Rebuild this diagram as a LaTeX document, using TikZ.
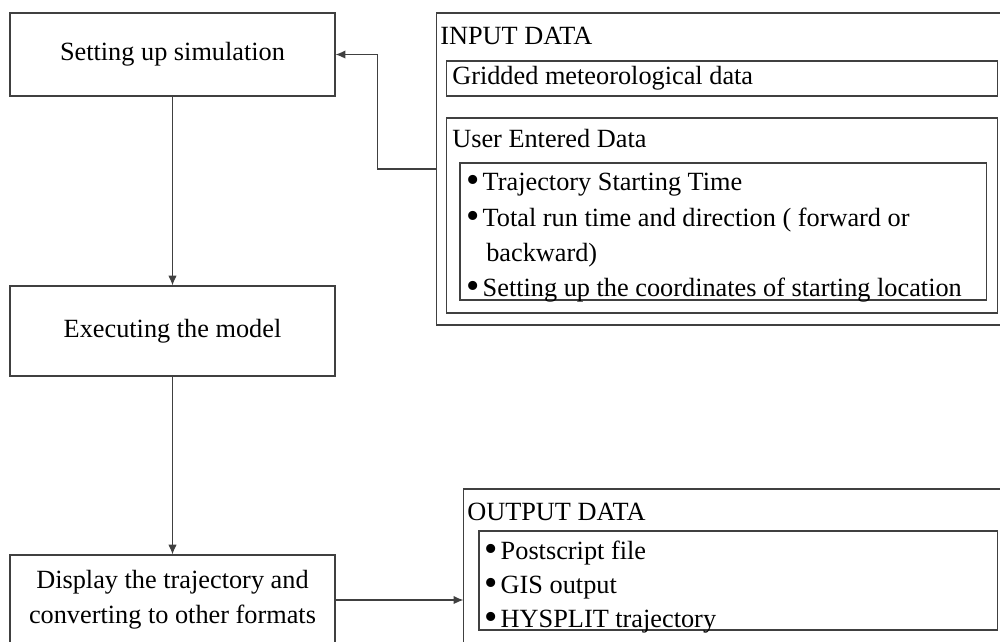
\documentclass[tikz,border=0pt]{standalone}
\usepackage{fontspec}
\setmainfont{Liberation Serif}
\usetikzlibrary{arrows.meta}
\newcommand{\itemdot}{\smash{\raisebox{-0.06em}{\fontsize{27}{0}\selectfont\textbullet}}\hspace{0.12em}}
\begin{document}
\begin{tikzpicture}[x=0.025cm, y=-0.025cm,
    font=\fontsize{18.7}{24.9}\selectfont,
    every node/.style={inner sep=0pt},
    frame/.style={draw=black!75, line width=0.8pt},
    stepbox/.style={frame, minimum width=8.125cm, align=center},
    flow/.style={draw=black!75, line width=0.8pt, -{Latex[length=7pt,width=6pt]}}]
  \useasboundingbox (0,0) rectangle (1000,641);
  \clip (0,0) rectangle (1000,641);
  % processing steps
  \node[stepbox, minimum height=2.075cm] (setup) at (172.5,54.5) {Setting up simulation};
  \node[stepbox, minimum height=2.25cm] (exec) at (172.5,331) {Executing the model};
  \node[stepbox, minimum height=2.25cm] (disp) at (172.5,600)
    {Display the trajectory and\\converting to other formats};
  % input data
  \node[frame, minimum width=14.3cm, minimum height=7.8cm] (inbox) at (723,169) {};
  \node[anchor=west] (intitle) at (440,36) {INPUT DATA};
  \node[frame, minimum width=13.75cm, minimum height=0.875cm] (gridbox) at (722,78.5) {};
  \node[anchor=west] (gridtext) at (452,78.5) {Gridded meteorological data};
  \node[frame, minimum width=13.75cm, minimum height=4.875cm] (userbox) at (722,215.5) {};
  \node[anchor=west] (usertitle) at (452,138) {User Entered Data};
  \node[frame, minimum width=13.15cm, minimum height=3.425cm] (userlist) at (723,231.5) {};
  \node[anchor=west] (tstart) at (466,185) {\itemdot Trajectory Starting Time};
  \node[anchor=west] (runtime) at (466,220) {\itemdot Total run time and direction ( forward or};
  \node[anchor=west] (backw) at (486,255) {backward)};
  \node[anchor=west] (coords) at (466,290) {\itemdot Setting up the coordinates of starting location};
  % output data
  \node[frame, minimum width=13.625cm, minimum height=5.55cm] (outbox) at (736.5,600) {};
  \node[anchor=west] (outtitle) at (467,512) {OUTPUT DATA};
  \node[frame, minimum width=12.95cm, minimum height=2.475cm] (outlist) at (738,580.5) {};
  \node[anchor=west] (psfile) at (484,553) {\itemdot Postscript file};
  \node[anchor=west] (gisout) at (484,588) {\itemdot GIS output};
  \node[anchor=west] (hytraj) at (484,622) {\itemdot HYSPLIT trajectory};
  % connectors
  \draw[flow] (setup) -- (exec);
  \draw[flow] (exec) -- (disp);
  \draw[flow] (inbox.west) -- ++(-59,0) |- (setup.east);
  \draw[flow] (disp) -- (outbox);
\end{tikzpicture}
\end{document}
